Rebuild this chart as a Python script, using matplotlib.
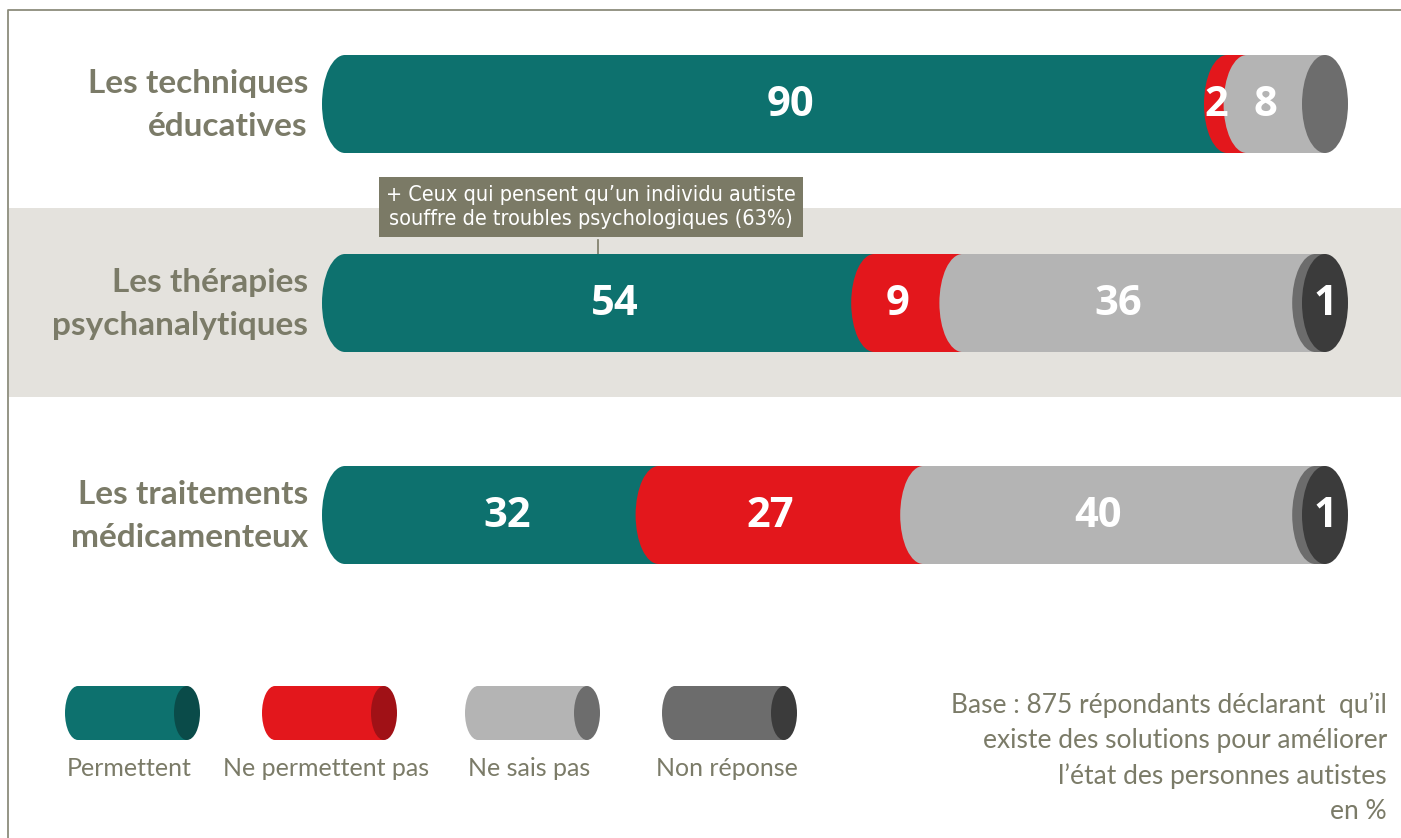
import matplotlib
matplotlib.use('Agg')
import matplotlib.pyplot as plt
from matplotlib.patches import Rectangle, Ellipse

# data
categories = ['Les techniques\néducatives',
              'Les thérapies\npsychanalytiques',
              'Les traitements\nmédicamenteux']
series = ['Permettent', 'Ne permettent pas', 'Ne sais pas', 'Non réponse']
permettent = [90, 54, 32]
ne_permettent_pas = [2, 9, 27]
ne_sais_pas = [8, 36, 40]
non_reponse = [0, 1, 1]
note = ("Base : 875 répondants déclarant  qu\u2019il\n"
        "existe des solutions pour améliorer\n"
        "l\u2019état des personnes autistes\n"
        "en %")
callout = ("+ Ceux qui pensent qu\u2019un individu autiste\n"
           "souffre de troubles psychologiques (63%)")

# style
body_colors = ['#0d716e', '#e3171c', '#b4b4b4', '#6c6c6c']
face_colors = ['#0a4b49', '#a01116', '#6d6d6d', '#3b3b3b']
text_color = '#7b7b68'
W, H = 1401, 838
X0, SCALE = 345, 9.8          # pixel of 0 %, pixels per %
row_y = [104, 303, 515]       # pixel centre of each bar
bar_h = 98
hw = 23 / SCALE               # half width of the end ellipses, in %

fig = plt.figure(figsize=(W / 100, H / 100), dpi=100)
lay = fig.add_axes([0, 0, 1, 1])
lay.set_xlim(0, W)
lay.set_ylim(H, 0)
lay.axis('off')

ax = fig.add_axes([0, 0, 1, 1])
ax.set_xlim(-X0 / SCALE, (W - X0) / SCALE)
ax.set_ylim(H, 0)
ax.axis('off')
ax.patch.set_alpha(0)

# frame and band behind the middle row
lay.plot([8, 8, W], [H, 10, 10], color='#8c8c7c', lw=1.3)
lay.add_patch(Rectangle((9, 208), W - 9, 189, color='#e4e2dd', lw=0))

values = list(zip(permettent, ne_permettent_pas, ne_sais_pas, non_reponse))
for i, row in enumerate(values):
    y = row_y[i]
    left = 0
    last = 0
    for k, v in enumerate(row):
        if v == 0:
            continue
        ax.add_patch(Rectangle((left, y - bar_h / 2), v, bar_h,
                               color=body_colors[k], lw=0, zorder=2 + k))
        ax.add_patch(Ellipse((left, y), 2 * hw, bar_h,
                             color=body_colors[k], lw=0, zorder=2 + k))
        left += v
        last = k
    ax.add_patch(Ellipse((left, y), 2 * hw, bar_h,
                         color=face_colors[last], lw=0, zorder=10))
    # value labels
    left = 0
    for k, v in enumerate(row):
        if v == 0:
            continue
        if k == 3:
            cx = left + v
        elif k == 0:
            cx = v / 2 + 0.5
        else:
            cx = left + v / 2 - hw * 0.9
        ax.text(cx, y + 1, str(v), color='white', fontsize=30,
                fontweight='bold', family='Open Sans', ha='center',
                va='center', zorder=12)
        left += v
    lay.text(308, y + 1, categories[i], color=text_color, fontsize=24,
             fontweight='bold', family='Lato', ha='right', va='center',
             linespacing=1.55)

# callout
lay.text(591, 207, callout, color='white', fontsize=15.5,
         family='DejaVu Sans', stretch='condensed', ha='center',
         va='center', linespacing=1.3, zorder=5,
         bbox=dict(boxstyle='square,pad=0.35', fc='#7b7a66', ec='none'))
lay.plot([598, 598], [240, 256], color='#7b7a66', lw=1.2, zorder=1)

# legend
leg_x = [65, 262, 465, 662]
leg_w = 135
for k, name in enumerate(series):
    x = leg_x[k]
    lay.add_patch(Rectangle((x + 13, 686), leg_w - 26, 54,
                            color=body_colors[k], lw=0))
    lay.add_patch(Ellipse((x + 13, 713), 26, 54, color=body_colors[k], lw=0))
    lay.add_patch(Ellipse((x + leg_w - 13, 713), 26, 54,
                          color=face_colors[k], lw=0))
    lay.text(x + leg_w / 2 - 3, 768, name, color=text_color, fontsize=18,
             family='Lato', ha='center', va='center')

lay.text(1387, 758, note, color=text_color, fontsize=19, family='Lato',
         ha='right', va='center', linespacing=1.5)

fig.savefig('out.png', dpi=100)
